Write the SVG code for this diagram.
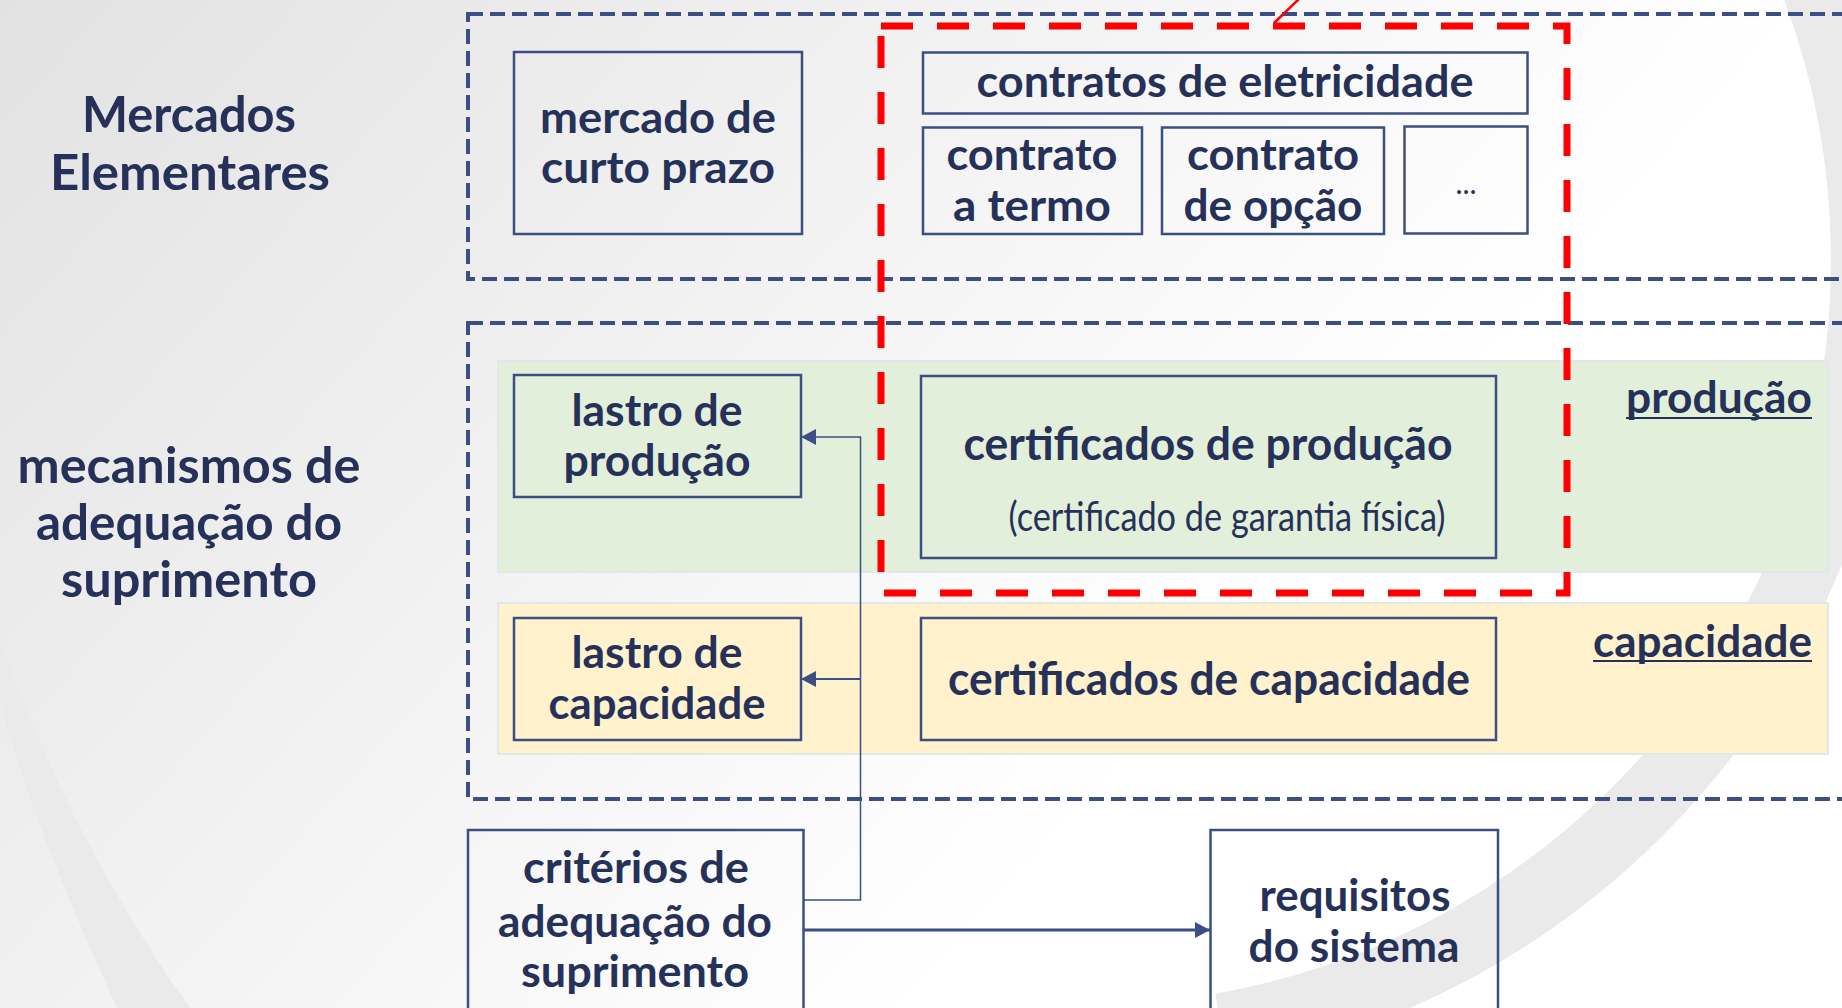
<svg xmlns="http://www.w3.org/2000/svg" width="1842" height="1008" viewBox="0 0 1842 1008">
<defs>
<linearGradient id="bg" gradientUnits="userSpaceOnUse" x1="0" y1="0" x2="1000" y2="900">
<stop offset="0" stop-color="#E2E2E2"/>
<stop offset="1" stop-color="#FFFFFF"/>
</linearGradient>
<marker id="arr" markerUnits="userSpaceOnUse" markerWidth="16" markerHeight="16" refX="15" refY="8" orient="auto">
<path d="M0,0 L15,8 L0,16 Z" fill="#3B4F85"/>
</marker>
<style>
.t{font-family:Lato,"Noto Sans","DejaVu Sans",sans-serif;font-weight:700;fill:#253158;text-anchor:middle;font-size:44px}
.lbl{font-size:49px}
.big{font-size:46px}
.sub{font-weight:400;font-size:40px}
.box{fill:none;stroke:#3B4F85;stroke-width:2.5}
.dash{fill:none;stroke:#3B4F85;stroke-width:4;stroke-dasharray:15 7}
.con{fill:none;stroke:#3B4F85}
.ul{stroke:#253158;stroke-width:2}
</style>
</defs>

<g id="background">
<rect x="0" y="0" width="1842" height="1008" fill="url(#bg)"/>
<path d="M1792.9,-69.6 A780,780 0 0 1 1221.4,1028.1" fill="none" stroke="#EAEAEA" stroke-width="70"/>
<path d="M0,640 Q71,842 190,1008 L117,1008 Q27.5,812 0,700 Z" fill="#EAEAEA"/>
</g>

<g id="bands">
<rect x="498" y="361" width="1330" height="211" fill="#E2EFDA" stroke="#E4E6EA" stroke-width="2"/>
<rect x="498" y="603" width="1330" height="151" fill="#FFF2CC" stroke="#E4E6EA" stroke-width="2"/>
</g>

<g id="group-mercados">
<rect class="dash" x="468" y="14" width="1400" height="265"/>
</g>
<g id="group-mecanismos">
<rect class="dash" x="468" y="323" width="1400" height="476"/>
</g>

<g id="label-mercados">
<text class="t lbl" x="189" y="132" textLength="214" lengthAdjust="spacingAndGlyphs">Mercados</text>
<text class="t lbl" x="190" y="190" textLength="280" lengthAdjust="spacingAndGlyphs">Elementares</text>
</g>

<g id="label-mecanismos">
<text class="t lbl" x="189" y="483" textLength="343" lengthAdjust="spacingAndGlyphs">mecanismos de</text>
<text class="t lbl" x="189" y="540" textLength="306" lengthAdjust="spacingAndGlyphs">adequação do</text>
<text class="t lbl" x="189" y="597" textLength="256" lengthAdjust="spacingAndGlyphs">suprimento</text>
</g>

<g id="node-mercado-curto-prazo">
<rect class="box" x="514" y="52" width="288" height="182"/>
<text class="t" x="658" y="133" textLength="236" lengthAdjust="spacingAndGlyphs">mercado de</text>
<text class="t" x="658" y="183" textLength="234" lengthAdjust="spacingAndGlyphs">curto prazo</text>
</g>

<g id="node-contratos-eletricidade">
<rect class="box" x="923" y="52.5" width="604.5" height="61"/>
<text class="t" x="1225" y="97" textLength="497" lengthAdjust="spacingAndGlyphs">contratos de eletricidade</text>
</g>

<g id="node-contrato-termo">
<rect class="box" x="923" y="127.5" width="219" height="106.5"/>
<text class="t" x="1032" y="170" textLength="171" lengthAdjust="spacingAndGlyphs">contrato</text>
<text class="t" x="1032" y="221" textLength="158" lengthAdjust="spacingAndGlyphs">a termo</text>
</g>

<g id="node-contrato-opcao">
<rect class="box" x="1162" y="127.5" width="222" height="106.5"/>
<text class="t" x="1273" y="170" textLength="172" lengthAdjust="spacingAndGlyphs">contrato</text>
<text class="t" x="1273" y="221" textLength="179" lengthAdjust="spacingAndGlyphs">de opção</text>
</g>

<g id="node-outros">
<rect class="box" x="1404.5" y="126.5" width="123" height="107"/>
<text class="t sub" x="1466" y="194" style="font-size:30px">...</text>
</g>

<g id="node-lastro-producao">
<rect class="box" x="514" y="375" width="287" height="122"/>
<text class="t" x="657" y="426" textLength="171" lengthAdjust="spacingAndGlyphs">lastro de</text>
<text class="t" x="657" y="476" textLength="187" lengthAdjust="spacingAndGlyphs">produção</text>
</g>

<g id="node-lastro-capacidade">
<rect class="box" x="514" y="618" width="287" height="122"/>
<text class="t" x="657" y="668" textLength="171" lengthAdjust="spacingAndGlyphs">lastro de</text>
<text class="t" x="657" y="719" textLength="217" lengthAdjust="spacingAndGlyphs">capacidade</text>
</g>

<g id="node-certificados-producao">
<rect class="box" x="921" y="376" width="575" height="182"/>
<text class="t big" x="1208" y="460" textLength="489" lengthAdjust="spacingAndGlyphs">certificados de produção</text>
<text class="t sub" x="1227" y="531" textLength="437" lengthAdjust="spacingAndGlyphs">(certificado de garantia física)</text>
</g>

<g id="node-certificados-capacidade">
<rect class="box" x="921" y="618" width="575" height="122"/>
<text class="t big" x="1209" y="695" textLength="522" lengthAdjust="spacingAndGlyphs">certificados de capacidade</text>
</g>

<g id="label-producao">
<text class="t" x="1812" y="413" style="text-anchor:end" textLength="186" lengthAdjust="spacingAndGlyphs">produção</text>
<line class="ul" x1="1626" y1="418" x2="1812" y2="418"/>
</g>

<g id="label-capacidade">
<text class="t" x="1812" y="657" style="text-anchor:end" textLength="219" lengthAdjust="spacingAndGlyphs">capacidade</text>
<line class="ul" x1="1593" y1="661" x2="1812" y2="661"/>
</g>

<g id="node-criterios">
<rect class="box" x="468" y="830" width="335.5" height="200"/>
<text class="t" x="636" y="883" textLength="226" lengthAdjust="spacingAndGlyphs">critérios de</text>
<text class="t" x="635" y="937" textLength="274" lengthAdjust="spacingAndGlyphs">adequação do</text>
<text class="t" x="635" y="987" textLength="228" lengthAdjust="spacingAndGlyphs">suprimento</text>
</g>

<g id="node-requisitos">
<rect class="box" x="1210.5" y="830" width="287.5" height="200"/>
<text class="t" x="1355" y="911" textLength="191" lengthAdjust="spacingAndGlyphs">requisitos</text>
<text class="t" x="1354" y="962" textLength="211" lengthAdjust="spacingAndGlyphs">do sistema</text>
</g>

<g id="highlight">
<rect x="881" y="26" width="686" height="567" fill="none" stroke="#FF0000" stroke-width="7" stroke-dasharray="32 24"/>
<line x1="1274" y1="23" x2="1300" y2="-2" stroke="#FF0000" stroke-width="2.5"/>
</g>

<g id="connectors">
<path class="con" d="M804,900 H860.5 V437 H801" stroke-width="1.5" marker-end="url(#arr)"/>
<path class="con" d="M860.5,679 H801" stroke-width="2" marker-end="url(#arr)"/>
<path class="con" d="M804,930 H1210" stroke-width="3" marker-end="url(#arr)"/>
</g>
</svg>
